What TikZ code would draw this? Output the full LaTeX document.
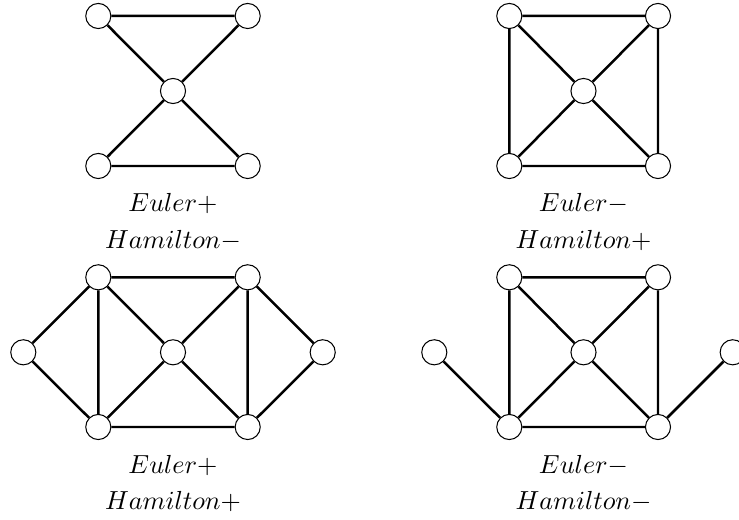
\documentclass[tikz,border=0pt]{standalone}
\begin{document}
\begin{tikzpicture}[x=0.013459cm,y=-0.013459cm,
  vtx/.style={circle,draw,fill=white,line width=0.4pt,minimum size=0.338cm,inner sep=0pt},
  edge/.style={line width=0.95pt},
  lbl/.style={anchor=base,inner sep=0pt}]
\useasboundingbox (0,0) rectangle (739,520);
\clip (0,0) rectangle (739,520);
% Graph 1 (top-left)
\node[vtx] (a1) at (98.3,16) {};
\node[vtx] (a2) at (247.7,16) {};
\node[vtx] (a0) at (173,91) {};
\node[vtx] (a3) at (98.3,166) {};
\node[vtx] (a4) at (247.7,166) {};
\draw[edge] (a1) -- (a2) (a3) -- (a4) (a1) -- (a0) (a2) -- (a0) (a3) -- (a0) (a4) -- (a0);
\node[lbl] (t1) at (173,211.7) {$Euler+$};
\node[lbl] (h1) at (173,248.3) {$Hamilton-$};
% Graph 2 (top-right)
\node[vtx] (b1) at (509.3,16) {};
\node[vtx] (b2) at (658,16) {};
\node[vtx] (b0) at (583.5,91) {};
\node[vtx] (b3) at (509.3,166) {};
\node[vtx] (b4) at (658,166) {};
\draw[edge] (b1) -- (b2) (b3) -- (b4) (b1) -- (b3) (b2) -- (b4)
  (b1) -- (b0) (b2) -- (b0) (b3) -- (b0) (b4) -- (b0);
\node[lbl] (t2) at (583.5,211.7) {$Euler-$};
\node[lbl] (h2) at (583.5,248.3) {$Hamilton+$};
% Graph 3 (bottom-left)
\node[vtx] (c1) at (98.3,277.3) {};
\node[vtx] (c2) at (247.7,277.3) {};
\node[vtx] (cl) at (23.3,352.3) {};
\node[vtx] (c0) at (173,352.3) {};
\node[vtx] (cr) at (322.7,352.3) {};
\node[vtx] (c3) at (98.3,427) {};
\node[vtx] (c4) at (247.7,427) {};
\draw[edge] (c1) -- (c2) (c3) -- (c4) (c1) -- (c3) (c2) -- (c4)
  (c1) -- (c0) (c2) -- (c0) (c3) -- (c0) (c4) -- (c0)
  (cl) -- (c1) (cl) -- (c3) (cr) -- (c2) (cr) -- (c4);
\node[lbl] (t3) at (173,473.3) {$Euler+$};
\node[lbl] (h3) at (173,510) {$Hamilton+$};
% Graph 4 (bottom-right)
\node[vtx] (d1) at (509.3,277.3) {};
\node[vtx] (d2) at (658,277.3) {};
\node[vtx] (dl) at (434.3,352.3) {};
\node[vtx] (d0) at (583.5,352.3) {};
\node[vtx] (dr) at (732.7,352.3) {};
\node[vtx] (d3) at (509.3,427) {};
\node[vtx] (d4) at (658,427) {};
\draw[edge] (d1) -- (d2) (d3) -- (d4) (d1) -- (d3) (d2) -- (d4)
  (d1) -- (d0) (d2) -- (d0) (d3) -- (d0) (d4) -- (d0)
  (dl) -- (d3) (dr) -- (d4);
\node[lbl] (t4) at (583.5,473.3) {$Euler-$};
\node[lbl] (h4) at (583.5,510) {$Hamilton-$};
\end{tikzpicture}
\end{document}
